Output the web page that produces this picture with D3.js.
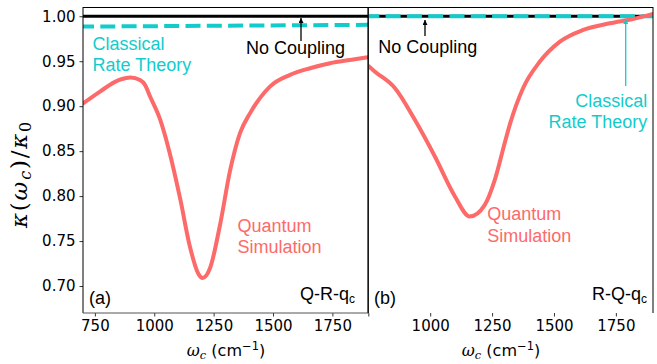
<!DOCTYPE html>
<html>
<head>
<meta charset="utf-8">
<script src="https://cdn.jsdelivr.net/npm/d3@7"></script>
<style>
  html, body { margin: 0; padding: 0; background: #fff; }
  svg { display: block; }
  .tick text { font-family: "DejaVu Sans", sans-serif; font-size: 15px; fill: #000; }
  .ann { font-family: "Liberation Sans", Arial, sans-serif; font-size: 18px; }
</style>
</head>
<body>
<svg id="chart" width="657" height="364"></svg>
<script>
// Panel (a): Q-R-q_c coupling
const omegaA   = [700, 770, 850, 900, 940, 961, 982, 1025, 1065, 1110, 1150, 1185, 1204, 1235, 1277, 1319, 1361, 1403, 1445, 1487, 1572, 1656, 1740, 1824, 1900];
const quantumA = [0.903, 0.916, 0.929, 0.932, 0.929, 0.9237, 0.911, 0.885, 0.848, 0.796, 0.744, 0.714, 0.709, 0.720, 0.768, 0.828, 0.870, 0.892, 0.909, 0.9218, 0.9348, 0.9422, 0.9478, 0.9514, 0.9544];
const classicalOmegaA = [700, 1900];
const classicalA      = [0.9885, 0.9905];

// Panel (b): R-Q-q_c coupling
const omegaB   = [750, 777, 858, 938, 1019, 1100, 1160, 1220, 1261, 1301, 1321, 1375, 1443, 1524, 1618, 1725, 1819, 1900];
const quantumB = [0.9448, 0.9384, 0.920, 0.8848, 0.844, 0.7996, 0.7773, 0.790, 0.818, 0.859, 0.879, 0.920, 0.9496, 0.9718, 0.9848, 0.9922, 0.997, 1.0026];
const classicalOmegaB = [750, 1900];
const classicalB      = [1.0, 1.0];

const noCoupling = 1.0;

const yTicks  = [0.70, 0.75, 0.80, 0.85, 0.90, 0.95, 1.00];
const xTicksA = [750, 1000, 1250, 1500, 1750];
const xTicksB = [750, 1000, 1250, 1500, 1750];

const RED = "#fd6a6a";
const CYAN = "#12cccc";

const svg = d3.select("#chart");

const plotTop = 7, plotBottom = 313;
const y = d3.scaleLinear().domain([0.67, 1.0103]).range([plotBottom, plotTop]);
const xA = d3.scaleLinear().domain([700, 1900]).range([83, 368]);
const xB = d3.scaleLinear().domain([750, 1900]).range([368.3, 653]);

function series(xs, ys) { return xs.map((v, i) => [v, ys[i]]); }

function panel(x, opts) {
  const g = svg.append("g");
  const [x0, x1] = x.range();

  const clipId = "clip" + opts.id;
  svg.append("clipPath").attr("id", clipId)
    .append("rect").attr("x", x0).attr("y", plotTop).attr("width", x1 - x0).attr("height", plotBottom - plotTop);

  const plot = g.append("g").attr("clip-path", `url(#${clipId})`);
  const line = d3.line().x(d => x(d[0])).y(d => y(d[1]));

  // no-coupling reference
  plot.append("path")
    .datum(x.domain().map(w => [w, noCoupling]))
    .attr("d", line)
    .attr("fill", "none").attr("stroke", "#000").attr("stroke-width", 3);

  // classical rate theory
  plot.append("path")
    .datum(series(opts.classicalOmega, opts.classical))
    .attr("d", line)
    .attr("fill", "none").attr("stroke", CYAN).attr("stroke-width", 4)
    .attr("stroke-dasharray", "15,6.3").attr("stroke-dashoffset", 4);

  // quantum simulation
  plot.append("path")
    .datum(series(opts.omega, opts.quantum))
    .attr("d", d3.line().x(d => x(d[0])).y(d => y(d[1])).curve(d3.curveMonotoneX))
    .attr("fill", "none").attr("stroke", RED).attr("stroke-width", 4)
    .attr("stroke-linejoin", "round").attr("stroke-linecap", "round");

  // x axis
  const ax = g.append("g").attr("transform", `translate(0,${plotBottom})`)
    .call(d3.axisBottom(x).tickValues(opts.xTicks).tickSizeOuter(0).tickSize(3.5).tickPadding(4)
      .tickFormat(opts.xLabelFmt));
  ax.select(".domain").remove();
  ax.selectAll(".tick line").attr("stroke", "#000").attr("stroke-width", 0.8);

  // frame
  const frame = g.append("g").attr("fill", "none").attr("stroke", "#000").attr("stroke-width", 1);
  frame.append("line").attr("x1", x0).attr("x2", x1).attr("y1", plotTop + 0.5).attr("y2", plotTop + 0.5);
  frame.append("line").attr("x1", x0).attr("x2", x0).attr("y1", plotTop).attr("y2", plotBottom);
  frame.append("line").attr("x1", x1).attr("x2", x1).attr("y1", plotTop).attr("y2", plotBottom);
  if (opts.bottomSpine) {
    frame.append("line").attr("x1", x0).attr("x2", x1).attr("y1", plotBottom).attr("y2", plotBottom).attr("stroke", "#555");
  }
  return g;
}

panel(xA, {
  id: "a", omega: omegaA, quantum: quantumA,
  classicalOmega: classicalOmegaA, classical: classicalA,
  xTicks: xTicksA, xLabelFmt: d => d, bottomSpine: true
});
panel(xB, {
  id: "b", omega: omegaB, quantum: quantumB,
  classicalOmega: classicalOmegaB, classical: classicalB,
  xTicks: xTicksB, xLabelFmt: d => d === 750 ? "" : d, bottomSpine: false
});

// y axis on panel (a)
const ay = svg.append("g").attr("transform", "translate(83,0)")
  .call(d3.axisLeft(y).tickValues(yTicks).tickSizeOuter(0).tickSize(3.5).tickPadding(4)
    .tickFormat(d3.format(".2f")));
ay.select(".domain").remove();
ay.selectAll(".tick line").attr("stroke", "#000").attr("stroke-width", 0.8);

// arrows
const defs = svg.append("defs");
function marker(id, color) {
  defs.append("marker").attr("id", id).attr("viewBox", "0 0 10 10")
    .attr("refX", 10).attr("refY", 5).attr("markerWidth", 5).attr("markerHeight", 5)
    .attr("orient", "auto-start-reverse").attr("markerUnits", "userSpaceOnUse")
    .append("path").attr("d", "M0,0 L10,5 L0,10 z").attr("fill", color);
}
marker("headK", "#000");
marker("headC", CYAN);

function arrow(x, yFrom, yTo, color, head) {
  svg.append("line").attr("x1", x).attr("x2", x).attr("y1", yFrom).attr("y2", yTo)
    .attr("stroke", color).attr("stroke-width", 1.3).attr("marker-end", `url(#${head})`);
}

function text(x, yb, lines, color, anchor, lineGap) {
  const t = svg.append("text").attr("class", "ann").attr("fill", color)
    .attr("text-anchor", anchor || "start");
  lines.forEach((s, i) => t.append("tspan").attr("x", x).attr("y", yb + i * (lineGap || 21)).text(s));
  return t;
}

function subText(x, yb, main, sub, anchor) {
  const t = svg.append("text").attr("class", "ann").attr("fill", "#000")
    .attr("text-anchor", anchor).attr("x", x).attr("y", yb);
  t.append("tspan").text(main);
  t.append("tspan").attr("font-size", "12px").attr("dy", 3).text(sub);
}

// Panel (a) annotations
text(92.5, 50, ["Classical", "Rate Theory"], CYAN, "start", 20.5);
text(246, 54, ["No Coupling"], "#000");
arrow(301, 41, 18, "#000", "headK");
text(237.5, 231.5, ["Quantum", "Simulation"], RED, "start", 21);
text(89, 304, ["(a)"], "#000");
subText(355, 300, "Q-R-q", "c", "end");

// Panel (b) annotations
text(378.3, 53.3, ["No Coupling"], "#000");
arrow(425, 36, 20, "#000", "headK");
text(647.3, 106.7, ["Classical", "Rate Theory"], CYAN, "end", 21);
arrow(625.7, 86, 19, CYAN, "headC");
text(487.3, 220, ["Quantum", "Simulation"], RED, "start", 21.5);
text(374, 304, ["(b)"], "#000");
subText(647, 300, "R-Q-q", "c", "end");

// axis titles
function xTitle(cx) {
  const t = svg.append("text").attr("x", cx).attr("y", 356).attr("text-anchor", "middle")
    .attr("font-family", "DejaVu Sans, sans-serif").attr("font-size", "16px").attr("fill", "#000");
  t.append("tspan").attr("font-family", "DejaVu Serif, serif").attr("font-style", "italic").text("ω");
  t.append("tspan").attr("font-family", "DejaVu Serif, serif").attr("font-style", "italic")
    .attr("font-size", "11.5px").attr("dy", 3).text("c");
  t.append("tspan").attr("dy", -3).text(" (cm");
  t.append("tspan").attr("font-size", "11.5px").attr("dy", -6).text("−1");
  t.append("tspan").attr("dy", 6).text(")");
}
xTitle(226);
xTitle(501);

const yt = svg.append("text").attr("transform", "translate(27,174) rotate(-90)")
  .attr("text-anchor", "middle").attr("font-family", "DejaVu Serif, serif")
  .attr("font-size", "23px").attr("letter-spacing", "1.8px").attr("fill", "#000");
yt.append("tspan").attr("font-style", "italic").text("κ");
yt.append("tspan").text("(");
yt.append("tspan").attr("font-style", "italic").text("ω");
yt.append("tspan").attr("font-style", "italic").attr("font-size", "16px").attr("dy", 4).text("c");
yt.append("tspan").attr("dy", -4).text(")/");
yt.append("tspan").attr("font-style", "italic").text("κ");
yt.append("tspan").attr("font-size", "16px").attr("dy", 4).text("0");
</script>
</body>
</html>
